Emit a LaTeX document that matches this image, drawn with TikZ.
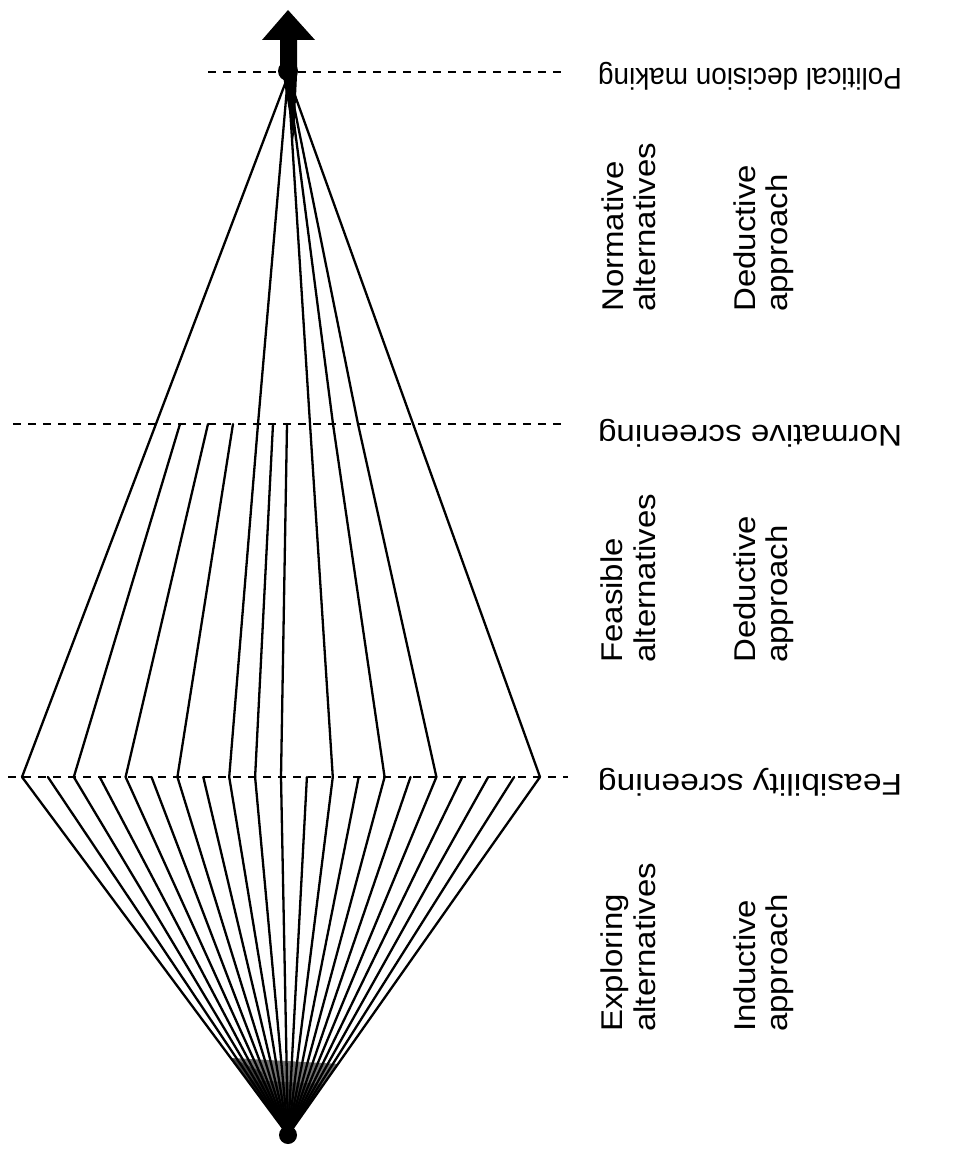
\documentclass[tikz,border=0pt]{standalone}
\usepackage{fontspec}
\setmainfont{Liberation Sans}
\begin{document}
\begin{tikzpicture}[x=1pt,y=-1pt,
  ray/.style={line width=2.3pt, line cap=round, line join=round},
  level/.style={line width=2.4pt, dash pattern=on 8pt off 7pt},
  tag/.style={inner sep=0pt, font=\fontsize{30}{32}\selectfont},
  sidetag/.style={tag, rotate=90, anchor=base west},
  leveltag/.style={tag, rotate=180, anchor=base}]
\useasboundingbox (0,0) rectangle (966,1153);
\fill[white] (0,0) rectangle (966,1153);

% apexes of the two fans
\coordinate (bot) at (288,1135);
\coordinate (top) at (288,76);
% alternatives reaching the feasibility screening
\foreach \i in {0,...,20} \coordinate (f\i) at ({22+25.9*\i},777);
% alternatives reaching the normative screening
\foreach \i/\x in {2/180,4/208,6/233,8/258,9/273,10/287,12/310,14/333,16/358}
  \coordinate (n\i) at (\x,424);

% screening levels
\coordinate (pdL) at (208,72);  \coordinate (pdR) at (566,72);
\coordinate (nsL) at (13,424);  \coordinate (nsR) at (566,424);
\coordinate (fsL) at (8,777);   \coordinate (fsR) at (568,777);
\draw[level] (pdL) -- (pdR);
\draw[level] (nsL) -- (nsR);
\draw[level] (fsL) -- (fsR);

% dense ink where the exploring fan meets its origin, darkening towards it
\begin{scope}
  \clip (f0) -- (f20) -- (bot) -- cycle;
  \fill[black!55] (232,1058) -- (340,1064) -- (bot) -- cycle;
  \fill[black!75] (232,1058) -- (262,1072) -- (bot) -- cycle;
  \foreach \t/\l/\r in {1080/246/326, 1100/258/316}
    \fill[black, opacity=0.35] (\l,\t) -- (\r,\t+4) -- (bot) -- cycle;
\end{scope}

% exploring alternatives
\foreach \i in {0,...,20} \draw[ray] (f\i) -- (bot);

% feasible alternatives
\draw[ray] (f0) -- (top);
\draw[ray] (f20) -- (top);
\foreach \i in {2,4,6,9,10} \draw[ray] (f\i) -- (n\i);
% normative alternatives
\foreach \i in {8,12,14,16} \draw[ray] (f\i) -- (n\i) -- (top);

% converging ink below the decision point
\fill (283,76) -- (297,76) -- (294,140) -- cycle;

% arrow towards the political decision
\fill (280,76) -- (280,40) -- (262,40) -- (288,10) -- (315,40) -- (297,40) -- (297,76) -- cycle;
\fill (288,71) circle (10);
\fill (bot) circle (9);

% level labels
\node[leveltag] (pdm) at (750,69) {\scalebox{0.93}[1]{Political decision making}};
\node[leveltag] (nsc) at (750,425) {\scalebox{1.105}[1]{Normative screening}};
\node[leveltag] (fsc) at (750,774) {\scalebox{1.119}[1]{Feasibility screening}};

% stage labels
\node[sidetag] (na1) at (623,312) {\scalebox{1.1}[1]{Normative}};
\node[sidetag] (na2) at (655,312) {\scalebox{1.1}[1]{alternatives}};
\node[sidetag] (da1) at (755,312) {\scalebox{1.1}[1]{Deductive}};
\node[sidetag] (da2) at (787,312) {\scalebox{1.1}[1]{approach}};

\node[sidetag] (fa1) at (622,663) {\scalebox{1.1}[1]{Feasible}};
\node[sidetag] (fa2) at (655,663) {\scalebox{1.1}[1]{alternatives}};
\node[sidetag] (db1) at (755,663) {\scalebox{1.1}[1]{Deductive}};
\node[sidetag] (db2) at (787,663) {\scalebox{1.1}[1]{approach}};

\node[sidetag] (ea1) at (622,1032) {\scalebox{1.1}[1]{Exploring}};
\node[sidetag] (ea2) at (655,1032) {\scalebox{1.1}[1]{alternatives}};
\node[sidetag] (ia1) at (755,1032) {\scalebox{1.1}[1]{Inductive}};
\node[sidetag] (ia2) at (787,1032) {\scalebox{1.1}[1]{approach}};
\end{tikzpicture}
\end{document}
